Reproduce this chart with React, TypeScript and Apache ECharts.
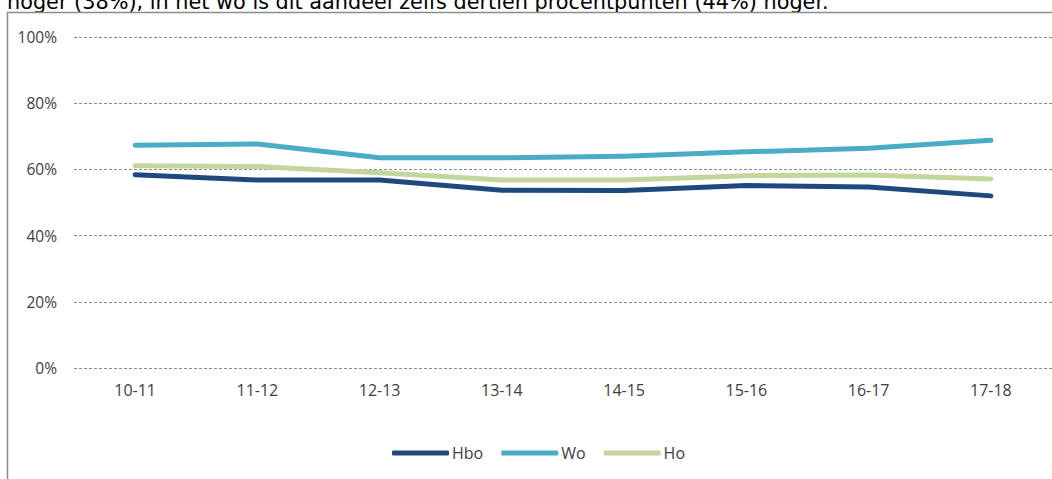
import React, { useEffect, useRef } from "react";
import * as echarts from "echarts";

const categories = ["10-11", "11-12", "12-13", "13-14", "14-15", "15-16", "16-17", "17-18"];
const hbo = [58.4, 56.8, 56.8, 53.7, 53.6, 55.1, 54.7, 52.0];
const wo = [67.3, 67.7, 63.5, 63.5, 64.0, 65.3, 66.4, 68.8];
const ho = [61.1, 60.9, 59.0, 56.8, 56.8, 58.1, 58.3, 57.1];
const yTicks = [0, 20, 40, 60, 80, 100];
const captionText = "hoger (38%), in het wo is dit aandeel zelfs dertien procentpunten (44%) hoger.";

const COLORS = { hbo: "#1F497D", wo: "#4BACC6", ho: "#C3D69B" };
const FONT = "'Open Sans', 'Noto Sans', sans-serif";

export default function App() {
  const ref = useRef<HTMLDivElement>(null);
  useEffect(() => {
    if (!ref.current) return;
    const chart = echarts.init(ref.current, undefined, { renderer: "svg" });
    const mk = (name: string, data: number[], color: string) => ({
      name,
      type: "line",
      data,
      symbol: "none",
      showSymbol: false,
      lineStyle: { color, width: 5, cap: "round", join: "round" },
      itemStyle: { color },
      emphasis: { disabled: true },
    });
    chart.setOption({
      animation: false,
      backgroundColor: "#fff",
      textStyle: { fontFamily: FONT },
      graphic: [
        {
          type: "text",
          x: 7,
          y: 12,
          z: 1,
          style: {
            text: captionText,
            fill: "#000",
            font: "20.8px 'DejaVu Sans', sans-serif",
            verticalAlign: "bottom",
          },
          silent: true,
        },
        {
          type: "rect",
          shape: { x: 7.5, y: 12.5, width: 1100, height: 500 },
          style: { fill: "none", stroke: "#8c8c8c", lineWidth: 1.5 },
          silent: true,
          z: 2,
        },
      ],
      grid: { left: 74, right: -1, top: 37, bottom: 111, containLabel: false },
      xAxis: {
        type: "category",
        data: categories,
        boundaryGap: true,
        axisLine: { show: false },
        axisTick: { show: false },
        axisLabel: { color: "#404040", fontSize: 16, margin: 14, fontFamily: FONT },
      },
      yAxis: {
        type: "value",
        min: 0,
        max: 100,
        interval: 20,
        axisLine: { show: false },
        axisTick: { show: false },
        axisLabel: {
          color: "#404040",
          fontSize: 15.5,
          margin: 17,
          fontFamily: FONT,
          formatter: (v: number) => (yTicks.includes(v) ? v + "%" : ""),
        },
        splitLine: { lineStyle: { color: "#8c8c8c", type: [3, 2], width: 1 } },
      },
      legend: {
        top: 440,
        left: 387,
        itemWidth: 57,
        itemHeight: 5,
        itemGap: 18,
        icon: "roundRect",
        textStyle: { color: "#404040", fontSize: 16, fontFamily: FONT, padding: [0, 0, 0, -2] },
        data: ["Hbo", "Wo", "Ho"],
      },
      series: [mk("Hbo", hbo, COLORS.hbo), mk("Wo", wo, COLORS.wo), mk("Ho", ho, COLORS.ho)],
    });
    return () => chart.dispose();
  }, []);
  return (
    <div
      ref={ref}
      style={{ position: "fixed", left: 0, top: 0, width: 1052, height: 479, background: "#fff" }}
    />
  );
}
